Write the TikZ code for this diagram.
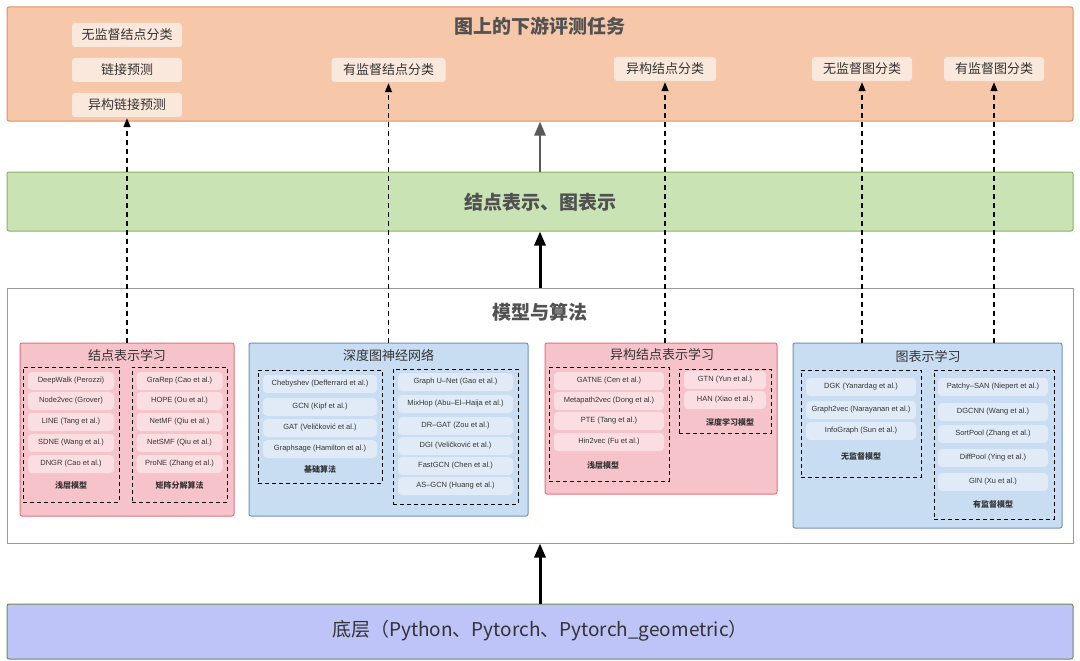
\documentclass[tikz,border=0pt]{standalone}
\usepackage{fontspec}
\setmainfont{Noto Sans CJK SC}
\newfontfamily\latf{Liberation Sans}
\usetikzlibrary{arrows.meta}
\definecolor{orfill}{HTML}{F6C7A8}
\definecolor{ordraw}{HTML}{E0905F}
\definecolor{grfill}{HTML}{C9E3B5}
\definecolor{grdraw}{HTML}{86B35F}
\definecolor{pkfill}{HTML}{F7C3CA}
\definecolor{pkdraw}{HTML}{E56F7E}
\definecolor{blfill}{HTML}{C8DCF2}
\definecolor{bldraw}{HTML}{6E93C3}
\definecolor{pufill}{HTML}{BEC3F8}
\definecolor{txt}{HTML}{333333}
\begin{document}
\begin{tikzpicture}[x=1pt,y=-1pt,
 band/.style={draw, line width=1pt, minimum width=1066pt, rounded corners=2pt, inner sep=0pt},
 task/.style={fill=white, fill opacity=0.6, text opacity=1, rounded corners=3pt, minimum height=24pt, inner sep=0pt, font=\fontsize{13}{13}\selectfont, text=txt},
 sub/.style={draw, line width=1pt, rounded corners=2pt, inner sep=0pt},
 dbox/.style={draw, dash pattern=on 4pt off 3pt, line width=0.8pt, inner sep=0pt},
 item/.style={fill=white, fill opacity=0.45, text opacity=1, rounded corners=4pt, minimum height=18pt, inner sep=0pt, font=\latf\fontsize{7.5}{8}\selectfont, text=txt},
 lab/.style={font=\fontsize{8}{8}\selectfont\bfseries, text=txt},
 stitle/.style={font=\fontsize{13}{13}\selectfont, text=txt},
 btitle/.style={font=\fontsize{19}{19}\selectfont\bfseries, text=txt!85},
 basefont/.style={font=\fontsize{19}{19}\selectfont, text=txt},
 dotarrow/.style={line width=1.3pt, dash pattern=on 5pt off 4pt, -{Triangle[length=9pt,width=7pt]}, shorten >=1pt},
 bigarrow/.style={line width=3pt, -{Triangle[length=14pt,width=11pt]}}
]
\useasboundingbox[fill=white] (0,0) rectangle (1080,661);

% top band
\node[band, fill=orfill, draw=ordraw, minimum height=114pt] (top) at (540,64) {};
\node[btitle] (toptitle) at (540,26) {图上的下游评测任务};
\node[task, minimum width=110pt] (t1) at (127,35) {无监督结点分类};
\node[task, minimum width=110pt] (t2) at (127,70) {链接预测};
\node[task, minimum width=110pt] (t3) at (127,105) {异构链接预测};
\node[task, minimum width=114pt] (t4) at (388.5,70) {有监督结点分类};
\node[task, minimum width=102pt] (t5) at (665,69) {异构结点分类};
\node[task, minimum width=100pt] (t6) at (862,69) {无监督图分类};
\node[task, minimum width=100pt] (t7) at (994,69) {有监督图分类};

% green band
\node[band, fill=grfill, draw=grdraw, minimum height=59pt] (rep) at (540,201.5) {};
\node[btitle] (reptitle) at (540,202) {结点表示、图表示};

% model box
\node[band, fill=white, draw=gray!80, minimum height=255pt, rounded corners=0pt] (model) at (540,415.5) {};
\node[btitle] (modeltitle) at (540,312) {模型与算法};

% bottom band
\node[band, fill=pufill, draw=grdraw!80!black, minimum height=55pt] (base) at (540,631.5) {};
\node[basefont] (basetitle) at (540,631) {底层（Python、Pytorch、Pytorch\_geometric）};

% S1
\node[sub, fill=pkfill, draw=pkdraw, minimum width=214pt, minimum height=173pt] (S1) at (127,429.5) {};
\node[stitle] (S1t) at (127,355) {结点表示学习};
\node[dbox, minimum width=96pt, minimum height=135pt] (S1L) at (71,434.5) {};
\node[dbox, minimum width=95pt, minimum height=135pt] (S1R) at (179.5,434.5) {};
\node[item, minimum width=86pt] (a1) at (71,381) {DeepWalk (Perozzi)};
\node[item, minimum width=86pt] (a2) at (71,401) {Node2vec (Grover)};
\node[item, minimum width=86pt] (a3) at (71,422) {LINE (Tang et al.)};
\node[item, minimum width=86pt] (a4) at (71,443) {SDNE (Wang et al.)};
\node[item, minimum width=86pt] (a5) at (71,464) {DNGR (Cao et al.)};
\node[lab] (al) at (71,485) {浅层模型};
\node[item, minimum width=86pt] (b1) at (179.5,381) {GraRep (Cao et al.)};
\node[item, minimum width=86pt] (b2) at (179.5,401) {HOPE (Ou et al.)};
\node[item, minimum width=86pt] (b3) at (179.5,422) {NetMF (Qiu et al.)};
\node[item, minimum width=86pt] (b4) at (179.5,443) {NetSMF (Qiu et al.)};
\node[item, minimum width=86pt] (b5) at (179.5,464) {ProNE (Zhang et al.)};
\node[lab] (bl) at (179.5,485) {矩阵分解算法};

% S2
\node[sub, fill=blfill, draw=bldraw, minimum width=279pt, minimum height=173pt] (S2) at (388.5,429.5) {};
\node[stitle] (S2t) at (388.5,355) {深度图神经网络};
\node[dbox, minimum width=124pt, minimum height=113pt] (S2L) at (320,426.5) {};
\node[dbox, minimum width=125pt, minimum height=135pt] (S2R) at (455.5,436.5) {};
\node[item, minimum width=114pt] (c1) at (320,384) {Chebyshev (Defferrard et al.)};
\node[item, minimum width=114pt] (c2) at (320,407) {GCN (Kipf et al.)};
\node[item, minimum width=114pt] (c3) at (320,428) {GAT (Veličković et al.)};
\node[item, minimum width=114pt] (c4) at (320,449) {Graphsage (Hamilton et al.)};
\node[lab] (cl) at (320,469) {基础算法};
\node[item, minimum width=115pt] (d1) at (455.5,382) {Graph U–Net (Gao et al.)};
\node[item, minimum width=115pt] (d2) at (455.5,404) {MixHop (Abu–El–Haija et al.)};
\node[item, minimum width=115pt] (d3) at (455.5,426) {DR–GAT (Zou et al.)};
\node[item, minimum width=115pt] (d4) at (455.5,446) {DGI (Veličković et al.)};
\node[item, minimum width=115pt] (d5) at (455.5,466) {FastGCN (Chen et al.)};
\node[item, minimum width=115pt] (d6) at (455.5,486) {AS–GCN (Huang et al.)};

% S3
\node[sub, fill=pkfill, draw=pkdraw, minimum width=232pt, minimum height=151pt] (S3) at (661,418.5) {};
\node[stitle] (S3t) at (662,355) {异构结点表示学习};
\node[dbox, minimum width=120pt, minimum height=114pt] (S3L) at (609,424) {};
\node[dbox, minimum width=92pt, minimum height=64pt] (S3R) at (725,401) {};
\node[item, minimum width=110pt] (e1) at (609,381) {GATNE (Cen et al.)};
\node[item, minimum width=110pt] (e2) at (609,401) {Metapath2vec (Dong et al.)};
\node[item, minimum width=110pt] (e3) at (609,421) {PTE (Tang et al.)};
\node[item, minimum width=110pt] (e4) at (609,442) {Hin2vec (Fu et al.)};
\node[lab] (el) at (603,465) {浅层模型};
\node[item, minimum width=82pt] (f1) at (725,380) {GTN (Yun et al.)};
\node[item, minimum width=82pt] (f2) at (725,400) {HAN (Xiao et al.)};
\node[lab] (fl) at (730,422) {深度学习模型};

% S4
\node[sub, fill=blfill, draw=bldraw, minimum width=269pt, minimum height=185pt] (S4) at (927.5,435.5) {};
\node[stitle] (S4t) at (928,356) {图表示学习};
\node[dbox, minimum width=120pt, minimum height=107pt] (S4L) at (861,423.5) {};
\node[dbox, minimum width=120pt, minimum height=149pt] (S4R) at (994,444.5) {};
\node[item, minimum width=110pt] (g1) at (861,387) {DGK (Yanardag et al.)};
\node[item, minimum width=110pt] (g2) at (861,410) {Graph2vec (Narayanan et al.)};
\node[item, minimum width=110pt] (g3) at (861,431) {InfoGraph (Sun et al.)};
\node[lab] (gl) at (861,456) {无监督模型};
\node[item, minimum width=110pt] (h1) at (993,387) {Patchy–SAN (Niepert et al.)};
\node[item, minimum width=110pt] (h2) at (993,412) {DGCNN (Wang et al.)};
\node[item, minimum width=110pt] (h3) at (993,434) {SortPool (Zhang et al.)};
\node[item, minimum width=110pt] (h4) at (993,458) {DiffPool (Ying et al.)};
\node[item, minimum width=110pt] (h5) at (993,482) {GIN (Xu et al.)};
\node[lab] (hl) at (993,504) {有监督模型};

% dotted arrows
\draw[dotarrow] (S1.north -| t3.south) -- (t3.south);
\draw[dotarrow] (S2.north) -- (S2.north |- t4.south);
\draw[dotarrow] (S3.north -| t5.south) -- (t5.south);
\draw[dotarrow] (S4.north -| t6.south) -- (t6.south);
\draw[dotarrow] (S4.north -| t7.south) -- (t7.south);

% big arrows
\draw[bigarrow] (base.north) -- (model.south);
\draw[bigarrow] (model.north) -- (rep.south);
\draw[bigarrow, draw=black!65, line width=2.6pt] (rep.north) -- (top.south);
\end{tikzpicture}
\end{document}
